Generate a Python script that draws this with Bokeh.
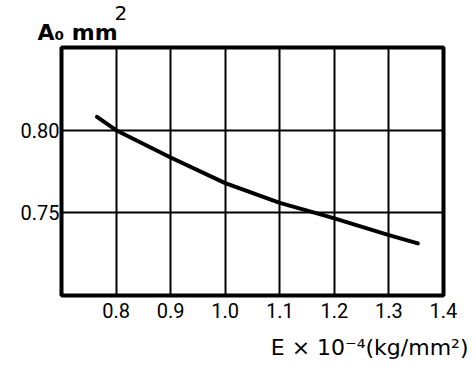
from bokeh.plotting import figure
from bokeh.models import FixedTicker, Range1d, Title
from bokeh.embed import file_html
from bokeh.resources import INLINE

# Data
E_vals = [0.765, 0.80, 0.90, 1.00, 1.10, 1.165, 1.20, 1.30, 1.353]
A_vals = [0.808, 0.800, 0.7835, 0.768, 0.756, 0.750, 0.7466, 0.7365, 0.7315]

x_ticks = [0.8, 0.9, 1.0, 1.1, 1.2, 1.3, 1.4]
x_tick_labels = ["0.8", "0.9", "1.0", "1.1", "1.2", "1.3", "1.4"]
y_ticks = [0.75, 0.80]
y_tick_labels = ["0.75", "0.80"]

y_title = "A\u2080 mm"
y_title_sup = "2"
x_title = "E \u00d7 10\u207b\u2074(kg/mm\u00b2)"

W, H = 476, 371
FL, FT, FW, FH = 61, 47, 382, 248   # frame left/top/width/height in pixels
FB = FT + FH

p = figure(width=W, height=H, output_backend="svg", toolbar_location=None,
           x_range=Range1d(0.7, 1.4), y_range=Range1d(0.70, 0.85),
           min_border_left=FL, min_border_right=W - FL - FW,
           min_border_top=FT, min_border_bottom=H - FB)

p.background_fill_color = "white"
p.border_fill_color = "white"
p.outline_line_color = "black"
p.outline_line_width = 4

# axes
for ax in (p.xaxis[0], p.yaxis[0]):
    ax.axis_line_color = None
    ax.major_tick_line_color = None
    ax.minor_tick_line_color = None
    ax.major_tick_out = 0
    ax.major_tick_in = 0
    ax.minor_tick_out = 0
    ax.minor_tick_in = 0
    ax.major_label_text_font = "Roboto"
    ax.major_label_text_font_size = "20px"
    ax.major_label_text_color = "black"

p.xaxis.ticker = FixedTicker(ticks=x_ticks)
p.xaxis.major_label_overrides = {t: l for t, l in zip(x_ticks, x_tick_labels)}
p.xaxis.major_label_standoff = 7
p.yaxis.ticker = FixedTicker(ticks=y_ticks)
p.yaxis.major_label_overrides = {t: l for t, l in zip(y_ticks, y_tick_labels)}
p.yaxis.major_label_standoff = 2

p.xgrid.ticker = FixedTicker(ticks=x_ticks[:-1])
p.ygrid.ticker = FixedTicker(ticks=y_ticks)
for g in (p.xgrid[0], p.ygrid[0]):
    g.grid_line_color = "black"
    g.grid_line_width = 2
    g.grid_line_alpha = 1

p.line(E_vals, A_vals, line_color="black", line_width=4, line_cap="round")

# y quantity title above the frame (with its superscript in a row above)
t1 = Title(text=y_title, align="left", offset=-24, standoff=5,
           text_font="DejaVu Sans", text_font_size="22px", text_font_style="bold",
           text_color="black")
t2 = Title(text=y_title_sup, align="left", offset=53, standoff=-8,
           text_font="DejaVu Sans", text_font_size="20px", text_font_style="normal",
           text_color="black")
p.add_layout(t1, "above")
p.add_layout(t2, "above")

# x quantity title below the tick labels, right aligned
t3 = Title(text=x_title, align="right", offset=-25, standoff=24,
           text_font="DejaVu Sans", text_font_size="22px", text_font_style="normal",
           text_color="black")
p.add_layout(t3, "below")

open("out.html", "w").write(file_html(p, INLINE))
